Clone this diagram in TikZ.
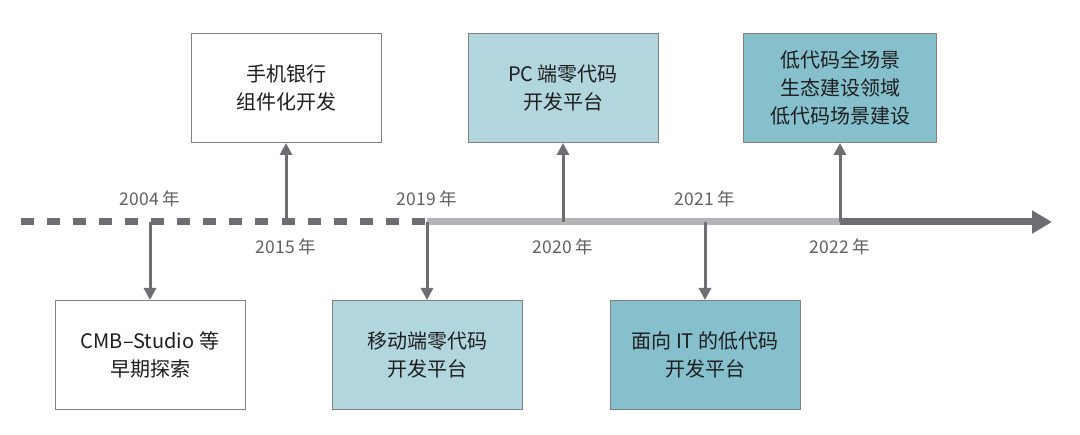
\documentclass[tikz,border=0pt]{standalone}
\usepackage{fontspec}
\setmainfont{Noto Sans CJK SC}
\usetikzlibrary{arrows.meta, positioning}
\definecolor{cLine}{RGB}{110,110,114}
\definecolor{cLight}{RGB}{180,180,183}
\definecolor{cBorder}{RGB}{128,128,130}
\definecolor{cPale}{RGB}{178,214,222}
\definecolor{cTeal}{RGB}{133,192,204}
\definecolor{cText}{RGB}{30,30,32}
\definecolor{cYear}{RGB}{95,95,100}
\tikzset{
	stage/.style  ={rectangle, draw=cBorder, line width=1pt, minimum width=190pt, minimum height=109pt, align=center, text=cText, fill=white, font=\fontsize{20}{28}\selectfont},
	yearlbl/.style={text=cYear, inner sep=0pt, anchor=base, font=\fontsize{17.5}{19}\selectfont},
	% time axis styles
	axis/.style   ={line width=7pt},
	sig/.style    ={-{Triangle[length=12pt, width=12pt]}, line width=3pt, draw=cLine},
}

\begin{document}
\begin{tikzpicture}[x=1pt, y=-1pt]
	\useasboundingbox (0,0) rectangle (1080,435);
	% axis points
	\coordinate (t2004) at (150,222);
	\coordinate (t2015) at (286,222);
	\coordinate (t2019) at (427,222);
	\coordinate (t2020) at (563,222);
	\coordinate (t2021) at (705,222);
	\coordinate (t2022) at (840,222);
	\coordinate (tbeg) at (20.5,222);
	\coordinate (tend) at (1052,222);
	\draw[axis, cLine, dash pattern=on 13pt off 13.1pt] (tbeg) -- (t2019);
	\draw[axis, cLight] (t2019) -- (t2022);
	\draw[axis, cLine, -{Triangle[length=20pt, width=22pt]}] (t2022) -- (tend);
	% years
	\node[yearlbl] (y2004) at (150,206) {2004 年};
	\node[yearlbl] (y2015) at (286,254) {2015 年};
	\node[yearlbl] (y2019) at (427,206) {2019 年};
	\node[yearlbl] (y2020) at (563,254) {2020 年};
	\node[yearlbl] (y2021) at (705,206) {2021 年};
	\node[yearlbl] (y2022) at (840,254) {2022 年};
	% stages
	\node[stage] (cmb) at (150,355) {CMB–Studio 等\\早期探索};
	\node[stage] (mob) at (286,88) {手机银行\\组件化开发};
	\node[stage, fill=cPale] (app) at (427,355) {移动端零代码\\开发平台};
	\node[stage, fill=cPale] (pc) at (563,88) {PC 端零代码\\开发平台};
	\node[stage, fill=cTeal] (it) at (705,355) {面向 IT 的低代码\\开发平台};
	\node[stage, fill=cTeal, minimum width=193pt] (eco) at (840,88) {低代码全场景\\生态建设领域\\低代码场景建设};
	\draw[sig] (t2004) -- (cmb.north);
	\draw[sig] (t2015) -- (mob.south);
	\draw[sig] (t2019) -- (app.north);
	\draw[sig] (t2020) -- (pc.south);
	\draw[sig] (t2021) -- (it.north);
	\draw[sig] (t2022) -- (eco.south);
\end{tikzpicture}
\end{document}
